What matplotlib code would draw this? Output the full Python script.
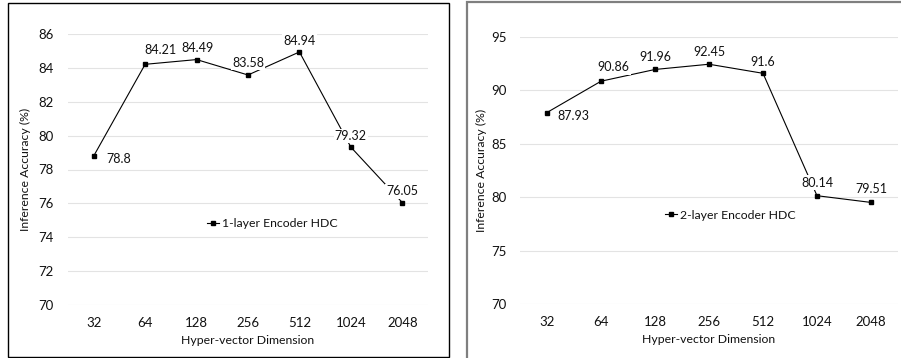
import matplotlib

matplotlib.use("Agg")

import matplotlib.pyplot as plt
from matplotlib.patches import Rectangle

plt.rcParams["font.family"] = ["Lato", "DejaVu Sans"]

dims = ["32", "64", "128", "256", "512", "1024", "2048"]
acc_1layer = [78.8, 84.21, 84.49, 83.58, 84.94, 79.32, 76.05]
acc_2layer = [87.93, 90.86, 91.96, 92.45, 91.6, 80.14, 79.51]

# label offsets (points) relative to each point
offs_1layer = [(18, -2), (11, 10), (1, 8.5), (0, 8.5), (0, 8), (0, 8), (0, 8)]
offs_2layer = [(19, -2.5), (9, 10), (0, 9), (0, 8.5), (0, 8.5), (0, 9.5), (0, 9.5)]

W, H = 901, 358
TXT = "#111111"


def panel(fig, rect, values, offsets, label, ylim, yticks, ypad, ylab_x, leg_xy):
    ax = fig.add_axes(rect)
    x = list(range(len(dims)))
    ax.plot(x, values, color="black", lw=0.8, marker="s", ms=3.2, label=label, zorder=3)
    for xi, v, (dx, dy) in zip(x, values, offsets):
        ax.annotate(
            f"{v:g}",
            (xi, v),
            xytext=(dx, dy),
            textcoords="offset points",
            ha="center",
            va="center",
            fontsize=9,
            color=TXT,
            bbox=dict(boxstyle="square,pad=0.1", fc="white", ec="none"),
            zorder=4,
        )
    ax.set_xlim(-0.5, len(dims) - 0.5)
    ax.set_ylim(*ylim)
    ax.set_yticks(yticks)
    ax.set_xticks(x)
    ax.set_xticklabels(dims)
    ax.grid(axis="y", color="#e3e3e3", lw=0.8, zorder=0)
    ax.set_axisbelow(True)
    for s in ax.spines.values():
        s.set_visible(False)
    ax.tick_params(axis="both", length=0, labelsize=9.5, colors=TXT)
    ax.tick_params(axis="y", pad=ypad)
    ax.tick_params(axis="x", pad=8.5)
    ax.set_xlabel("Hyper-vector Dimension", fontsize=8.8, color=TXT)
    ax.set_ylabel("Inference Accuracy (%)", fontsize=8.8, color=TXT)
    ax.xaxis.set_label_coords(0.5, -0.112)
    ax.yaxis.set_label_coords(ylab_x, 0.5)
    ax.legend(
        loc="center",
        bbox_to_anchor=leg_xy,
        frameon=False,
        fontsize=8.8,
        handlelength=1.0,
        handletextpad=0.2,
        markerscale=0.9,
        labelcolor=TXT,
    )
    return ax


fig = plt.figure(figsize=(W / 100, H / 100), dpi=100)

panel(
    fig,
    [68 / W, 1 - 305 / H, 360 / W, 271 / H],
    acc_1layer,
    offs_1layer,
    "1-layer Encoder HDC",
    (70, 86),
    [70, 72, 74, 76, 78, 80, 82, 84, 86],
    10.5,
    -0.103,
    (0.567, 0.30),
)
panel(
    fig,
    [520 / W, 1 - 304 / H, 378 / W, 267 / H],
    acc_2layer,
    offs_2layer,
    "2-layer Encoder HDC",
    (70, 95),
    [70, 75, 80, 85, 90, 95],
    9.5,
    -0.087,
    (0.556, 0.333),
)

# panel frames
fig.patches.append(
    Rectangle((8 / W, 1 - 357 / H), 441 / W, 354 / H, transform=fig.transFigure,
              fill=False, ec="black", lw=1.0)
)
fig.patches.append(
    Rectangle((467 / W, -0.05), 0.6, 1 - 1.5 / H + 0.05, transform=fig.transFigure,
              fill=False, ec="#7f7f7f", lw=1.6)
)

fig.savefig("out.png", dpi=100)
